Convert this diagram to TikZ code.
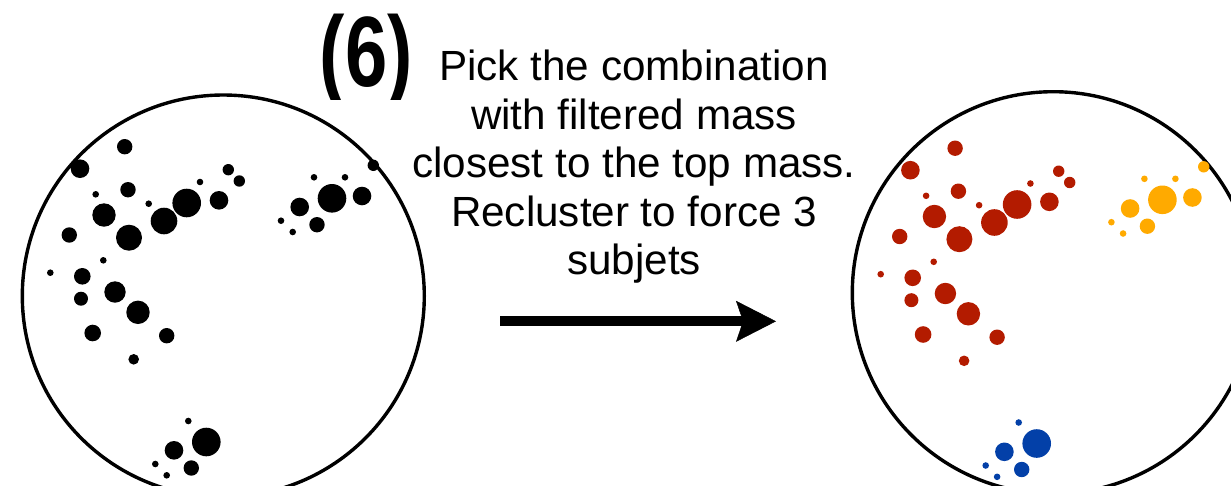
\documentclass[tikz,border=0pt]{standalone}
\usepackage{fontspec}
\setmainfont{Liberation Sans}
\usetikzlibrary{arrows.meta}

\definecolor{jetR}{RGB}{179,27,0}
\definecolor{jetY}{RGB}{255,170,0}
\definecolor{jetB}{RGB}{3,64,168}

\tikzset{
  jetcone/.style={draw=black, line width=3.4pt},
  flow/.style={line width=10pt,
    -{Stealth[length=40pt, width=41pt, inset=7pt, line width=0.5pt]}},
  caption/.style={font=\fontsize{42.2}{48.5}\selectfont, align=center, inner sep=0pt},
  stagelabel/.style={font=\fontsize{100}{100}\selectfont\bfseries, inner sep=0pt}
}

% constituents of the fat jet: x / y / radius / subjet
\def\constituents{
  124.7/146.7/7.7/R, 80/168.7/9.3/R, 373.3/165.3/5.7/Y,
  228.3/169.7/5.7/R, 239.3/181/5.7/R, 200/182/3.3/R,
  128/189.7/7.7/R, 95.7/194.3/3.3/R, 148.7/203.7/3.3/R,
  186.7/203/14.3/R, 219/200.3/9.3/R, 104/215/11.7/R,
  164/221/13.3/R, 129/237.7/13/R, 69.3/235/7.7/R,
  103.3/260.3/3.3/R, 50.3/272.7/3.3/R, 82.3/276.3/8.3/R,
  81/298.7/7/R, 115/292/10.7/R, 138/312.3/11.7/R,
  92.7/333/8.3/R, 166.7/335.7/7.7/R, 133.7/359.3/5.3/R,
  314/177.3/3.3/Y, 345/177.3/3.3/Y, 332/198.3/14.3/Y,
  362/196/9.3/Y, 299.7/207/9.3/Y, 281/220.7/3.3/Y,
  317/224.7/7.7/Y, 292.7/232/3.3/Y,
  188.3/421/3.3/B, 206.3/442/14.3/B, 174/450.3/9.3/B,
  155.3/464/3.3/B, 191.3/468/7.7/B, 166.7/475.3/3.3/B}

\begin{document}
\begin{tikzpicture}[x=1pt, y=-1pt]
  \useasboundingbox (0,0) rectangle (1231,485);

  % stage number, cropped top and bottom
  \begin{scope}
    \clip (300,13.3) rectangle (430,99);
    \node[stagelabel, anchor=base west] (stage) at (319.5,86.5)
      {\scalebox{0.76}[1]{(6)}};
  \end{scope}

  % description (anchored on the baseline of its last line)
  \node[caption, anchor=base] (desc) at (634,274.5)
    {Pick the combination\\with filtered mass\\closest to the top mass.\\Recluster to force 3\\subjets};

  % fat jet before reclustering
  \draw[jetcone] (223.3,296) circle[radius=201pt];
  \foreach \x/\y/\r/\c in \constituents {
    \fill[black] (\x,\y) circle[radius=\r pt];
  }

  % fat jet after reclustering into three subjets
  \draw[jetcone] (1053.3,292.7) circle[radius=201pt];
  \begin{scope}[shift={(830.4,1.5)}]
    \foreach \x/\y/\r/\c in \constituents {
      \fill[jet\c] (\x,\y) circle[radius=\r pt];
    }
  \end{scope}

  % transition arrow
  \coordinate (from) at (500,321.3);
  \coordinate (to) at (776,321.3);
  \draw[flow] (from) -- (to);
\end{tikzpicture}
\end{document}
